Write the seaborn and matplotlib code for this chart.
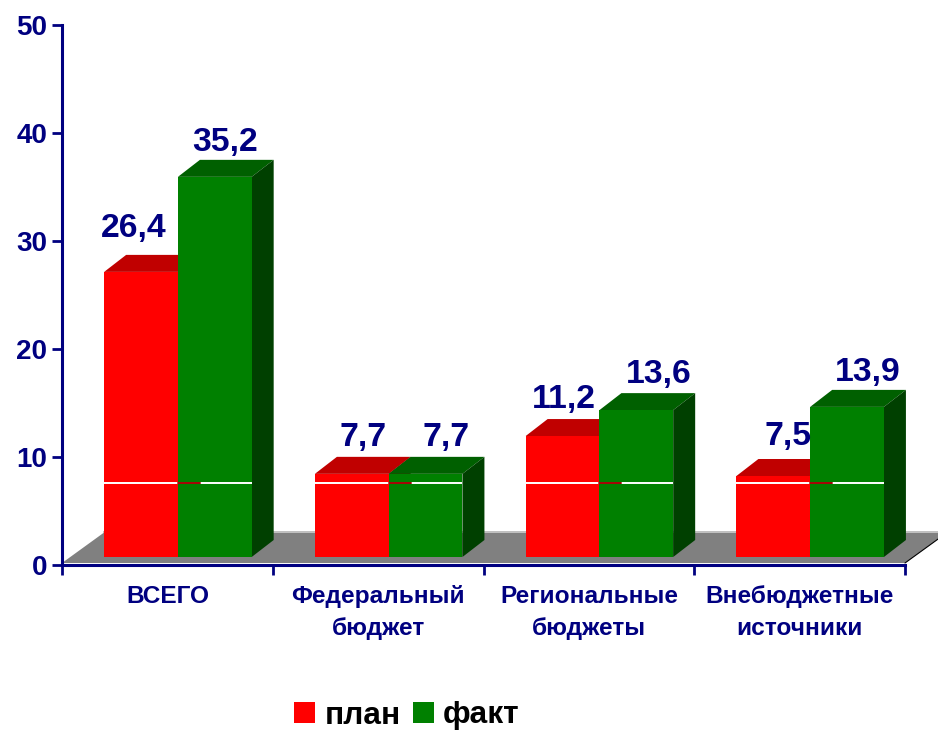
import matplotlib
matplotlib.use('Agg')
import matplotlib.pyplot as plt
from matplotlib.patches import Polygon
from matplotlib.transforms import IdentityTransform
import pandas as pd
import seaborn as sns

# values from the picture
categories = ['ВСЕГО', 'Федеральный\nбюджет', 'Региональные\nбюджеты', 'Внебюджетные\nисточники']
plan = [26.4, 7.7, 11.2, 7.5]
fact = [35.2, 7.7, 13.6, 13.9]
series_names = ['план', 'факт']
value_labels_plan = ['26,4', '7,7', '11,2', '7,5']
value_labels_fact = ['35,2', '7,7', '13,6', '13,9']
y_ticks = [0, 10, 20, 30, 40, 50]
white_line = 7.62

# hand placed labels, pixels from the top centre of each bar
plan_label_offset = [(-7, 43), (11, 36), (1, 37), (15, 40)]
fact_label_offset = [(10, 34), (21, 36), (22, 36), (21, 34)]

NAVY = '#000080'
DEPTH_X, DEPTH_Y = 22, 17
BASE = 0.74

sns.set_style('white')
plt.rcParams['font.family'] = ['Liberation Sans', 'DejaVu Sans']
plt.rcParams['font.weight'] = 'bold'

df = pd.DataFrame({
    'category': categories * 2,
    'value': plan + fact,
    'series': [series_names[0]] * 4 + [series_names[1]] * 4,
})

fig = plt.figure(figsize=(9.38, 7.30), dpi=100)
ax = fig.add_axes([62 / 938, 165 / 730, 843 / 938, 540 / 730])
ax.patch.set_alpha(0)

sns.barplot(data=df, x='category', y='value', hue='series', ax=ax,
            palette=['#ff0000', '#008000'], width=0.7, gap=0, saturation=1,
            linewidth=0, zorder=3)
ax.set_xlim(-0.5, 3.5)
ax.set_ylim(0, 50)
fig.canvas.draw()


def px(x, y):
    return ax.transData.transform((x, y))


def face(points, color, z):
    ax.add_patch(Polygon(points, closed=True, facecolor=color, edgecolor='none',
                         transform=IdentityTransform(), clip_on=False, zorder=z))


# floor of the 3d box
x0, y0 = px(-0.5, 0)
x1, _ = px(3.5, 0)
floor_h = 32
floor_w = floor_h * DEPTH_X / DEPTH_Y
face([(x0, y0 + 2), (x1, y0 + 2), (x1 + floor_w, y0 + floor_h), (x0 + floor_w, y0 + floor_h)], '#808080', 1)
face([(x0 + floor_w, y0 + floor_h), (x1 + floor_w, y0 + floor_h),
      (x1 + floor_w, y0 + floor_h + 2), (x0 + floor_w, y0 + floor_h + 2)], '#c0c0c0', 1)
ax.plot([x1, x1 + floor_w], [y0 + 2, y0 + floor_h], color='black', lw=0.8,
        transform=IdentityTransform(), clip_on=False, zorder=1)

# shift the bars a little to the right of the tick centres and add the 3d faces
styles = [('#c00000', '#800000', 3), ('#006000', '#004000', 5)]
for container, (top_c, side_c, z) in zip(ax.containers, styles):
    for bar in container:
        bar.set_x(bar.get_x() + 0.05)
        bar.set_y(BASE)
        bar.set_zorder(z + 1)
        (l, b) = px(bar.get_x(), BASE)
        (r, t) = px(bar.get_x() + bar.get_width(), BASE + bar.get_height())
        face([(l, t), (r, t), (r + DEPTH_X, t + DEPTH_Y), (l + DEPTH_X, t + DEPTH_Y)], top_c, z)
        face([(r, b), (r + DEPTH_X, b + DEPTH_Y), (r + DEPTH_X, t + DEPTH_Y), (r, t)], side_c, z)

# thin white line across each group
for red_bar, green_bar in zip(ax.containers[0], ax.containers[1]):
    left = red_bar.get_x()
    mid = green_bar.get_x()
    right = mid + green_bar.get_width()
    ax.hlines(white_line, left, right, color='white', lw=1.4, zorder=8)
    xm, ym = px(mid, white_line)
    ax.plot([xm, xm + DEPTH_X], [ym, ym], color='#a00000', lw=1.4,
            transform=IdentityTransform(), clip_on=False, zorder=9)

# value labels
all_labels = [(ax.containers[0], value_labels_plan, plan_label_offset),
              (ax.containers[1], value_labels_fact, fact_label_offset)]
for container, labels, offsets in all_labels:
    for bar, text, off in zip(container, labels, offsets):
        ax.annotate(text, (bar.get_x() + bar.get_width() / 2, BASE + bar.get_height()),
                    xytext=off, textcoords='offset pixels', ha='center', va='center',
                    color=NAVY, fontsize=24.3, fontweight='bold', zorder=10)

# axes
sns.despine(ax=ax)
for side in ['left', 'bottom']:
    ax.spines[side].set_color(NAVY)
    ax.spines[side].set_linewidth(2.2)
    ax.spines[side].set_zorder(2)
ax.set_xlabel('')
ax.set_ylabel('')
ax.set_yticks(y_ticks)
ax.set_yticklabels([str(v) for v in y_ticks])
ax.tick_params(axis='y', length=7, width=2, color=NAVY, labelcolor=NAVY, labelsize=20, pad=3.5, left=True)
ax.set_xticks([-0.5, 0.5, 1.5, 2.5, 3.5])
ax.set_xticklabels([])
ax.set_xticks([0, 1, 2, 3], minor=True)
ax.set_xticklabels(categories, minor=True, fontsize=17.6, fontweight='bold', color=NAVY, linespacing=1.5)
ax.tick_params(axis='x', which='major', length=7, width=2, color=NAVY, bottom=True)
ax.tick_params(axis='x', which='minor', length=0, pad=14.5, bottom=False)

# legend
handles, labels = ax.get_legend_handles_labels()
leg = ax.legend(handles, labels, ncol=2, frameon=False, loc='center', bbox_to_anchor=(407 / 938, 14.5 / 730),
                bbox_transform=fig.transFigure, prop={'size': 22.8, 'weight': 'bold'},
                handlelength=0.66, handleheight=0.66, handletextpad=0.3, columnspacing=0.38,
                borderpad=0, borderaxespad=0, labelcolor='black')

fig.savefig('out.png', dpi=100)
